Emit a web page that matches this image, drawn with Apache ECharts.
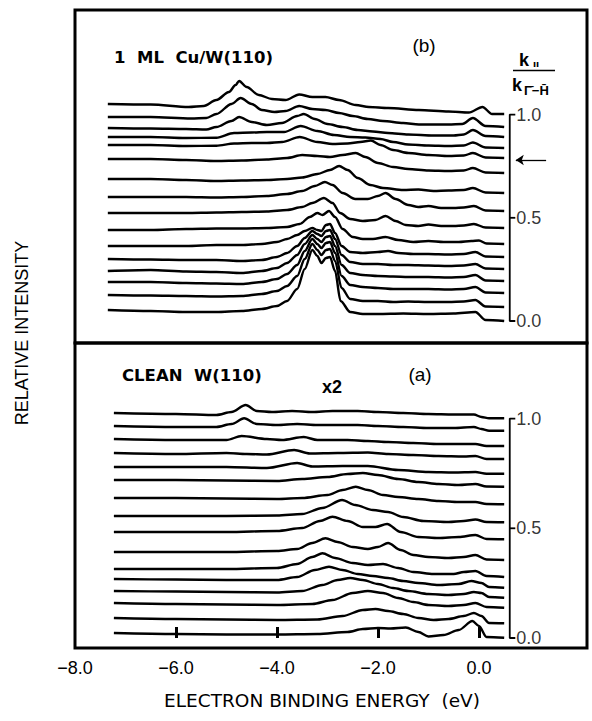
<!DOCTYPE html>
<html><head><meta charset="utf-8">
<script src="https://cdn.jsdelivr.net/npm/echarts@6/dist/echarts.min.js"></script>
<style>html,body{margin:0;padding:0;background:#fff}#c{width:592px;height:721px}</style>
</head><body><div id="c"></div>
<script>
// ---- axis / scale data ----
const energyTicks = [-6, -4, -2, 0];
const energyLabels = [-8, -6, -4, -2, 0];
const kTicks = [0, 0.5, 1.0];
const arrowK = 0.78;
const cuUnitsPerK = 206.4;   // intensity units per unit of k||/k(Γ-H) offset, panel (b)
const wUnitsPerK = 219.4;    // panel (a)

// ---- panel (b): 1 ML Cu/W(110)  [binding energy (eV), relative intensity] ----
const cuK100 = [[-7.35,217],[-6.5,216.5],[-5.75,214],[-5.45,215],[-5.2,221],[-4.95,229],[-4.82,236],[-4.75,240],[-4.6,234],[-4.36,226],[-4.1,222],[-3.83,221],[-3.56,226.5],[-3.3,224],[-3.04,224],[-2.77,221],[-2.44,216],[-2.18,214],[-1.8,213],[-1.19,211],[-0.6,209.5],[-0.2,208.5],[0.07,214],[0.26,207],[0.5,207]];
const cuK093 = [[-7.35,204],[-6.5,204],[-5.7,202.5],[-5.4,203],[-5.2,207],[-4.9,217],[-4.72,223],[-4.5,217],[-4.3,211],[-4.05,209],[-3.83,210],[-3.56,215],[-3.3,212],[-3.04,211],[-2.77,208],[-2.5,205],[-2.2,202],[-1.9,200],[-1.5,198],[-1.19,196.5],[-0.6,196.5],[-0.33,197],[-0.12,203],[0.13,195],[0.5,194]];
const cuK089 = [[-7.35,193],[-6.5,192.5],[-5.8,192],[-5.4,191.5],[-5.2,194],[-4.9,200],[-4.75,204],[-4.5,199],[-4.2,196],[-3.9,198],[-3.6,205],[-3.47,207],[-3.25,202],[-3.0,197],[-2.7,194],[-2.4,191],[-2.1,189.5],[-1.8,188],[-1.4,186.5],[-0.9,185.5],[-0.5,185.5],[-0.3,186.5],[-0.12,191],[0.13,185],[0.5,184]];
const cuK083 = [[-7.35,184],[-6.5,184],[-5.8,183],[-5.2,183.3],[-4.85,188],[-4.5,188.5],[-4.2,189],[-3.86,189],[-3.53,195],[-3.2,190],[-2.87,186],[-2.55,184],[-2.25,183.5],[-1.95,182],[-1.7,179],[-1.4,176.5],[-1.0,175.5],[-0.6,175],[-0.3,175.5],[-0.12,178.5],[0.13,173.5],[0.5,173]];
const cuK078 = [[-7.35,176],[-6.5,176],[-5.8,175],[-5.2,175.3],[-4.85,177.5],[-4.5,178],[-4.2,178],[-3.9,179],[-3.55,184],[-3.2,179],[-2.9,177],[-2.6,177.5],[-2.35,179],[-2.14,180.5],[-1.95,176],[-1.7,171],[-1.4,168],[-1.0,166],[-0.6,165],[-0.3,165.5],[-0.12,168],[0.13,163.5],[0.5,163]];
const cuK071 = [[-7.35,162],[-6.5,162],[-5.8,161],[-5.2,160],[-4.7,160.5],[-4.2,161.5],[-3.8,163],[-3.5,166],[-3.2,165],[-2.95,164],[-2.7,166],[-2.44,168],[-2.25,164],[-2.0,158],[-1.7,154],[-1.4,152],[-1.0,150.5],[-0.6,150],[-0.3,150.5],[-0.12,153],[0.13,148.5],[0.5,148]];
const cuK062 = [[-7.35,142],[-6.5,142],[-5.8,141],[-5.2,140],[-4.7,140.5],[-4.2,141],[-3.8,142],[-3.5,143.5],[-3.2,147],[-2.95,151],[-2.77,155],[-2.6,151],[-2.4,143],[-2.15,136],[-1.9,133],[-1.5,131],[-1.2,131.5],[-0.9,130],[-0.6,130.5],[-0.3,131],[-0.12,133],[0.13,128.5],[0.5,128]];
const cuK053 = [[-7.35,124],[-6.5,124],[-5.8,124],[-5.2,123.5],[-4.7,124],[-4.2,125],[-3.8,127],[-3.5,130],[-3.25,135],[-3.05,139],[-2.9,136],[-2.7,128],[-2.45,122],[-2.2,122],[-2.0,125],[-1.85,128],[-1.65,122],[-1.4,116],[-1.2,114],[-1.0,115],[-0.75,113],[-0.5,113],[-0.3,113.5],[-0.1,115],[0.13,110.5],[0.5,110]];
const cuK045 = [[-7.35,108],[-6.5,108],[-5.8,108],[-5.2,108.5],[-4.7,109],[-4.2,109.5],[-3.8,111],[-3.5,114],[-3.3,118],[-3.07,123],[-2.9,118],[-2.75,108],[-2.55,102],[-2.3,100],[-2.05,101],[-1.85,105],[-1.65,100],[-1.45,96],[-1.2,95],[-1.0,96.5],[-0.75,95],[-0.5,95],[-0.3,95.5],[-0.1,97],[0.13,93.5],[0.5,93]];
const cuK037 = [[-7.35,91],[-6.5,91],[-5.8,92],[-5.2,92.5],[-4.7,92.5],[-4.2,93],[-3.8,94],[-3.55,97],[-3.35,104],[-3.2,108],[-3.1,106],[-2.97,110],[-2.85,104],[-2.7,92],[-2.5,84],[-2.3,82],[-2.1,82],[-1.85,84],[-1.6,81],[-1.3,79],[-1.0,80],[-0.7,79],[-0.4,79],[-0.15,80],[0.0,80.5],[0.15,77.5],[0.5,77]];
const cuK031 = [[-7.35,75],[-6.5,75],[-5.8,75],[-5.2,76],[-4.7,76],[-4.3,77],[-4.0,79],[-3.8,82],[-3.6,86],[-3.45,90],[-3.3,93],[-3.2,91],[-3.12,90],[-3.03,96],[-2.95,97],[-2.85,88],[-2.72,75],[-2.55,69],[-2.3,68],[-2.0,69],[-1.8,70],[-1.6,68],[-1.3,67],[-1.0,67],[-0.6,66.5],[-0.3,67],[-0.07,69],[0.13,64.5],[0.5,64]];
const cuK025 = [[-7.35,62],[-6.5,61.5],[-5.8,61],[-5.2,61],[-4.7,60],[-4.3,61],[-4.0,64],[-3.8,68],[-3.6,75],[-3.45,83],[-3.3,90],[-3.2,87],[-3.12,85],[-3.03,90],[-2.95,91],[-2.85,82],[-2.72,66],[-2.55,59],[-2.3,57],[-2.0,57],[-1.7,56],[-1.4,56],[-1.0,55.5],[-0.6,55],[-0.3,55.5],[-0.07,57],[0.13,52.5],[0.5,52]];
const cuK019 = [[-7.35,50],[-6.5,51],[-5.8,49.5],[-5.2,49],[-4.7,48],[-4.3,50],[-4.0,53],[-3.8,58],[-3.6,66],[-3.45,77],[-3.3,86],[-3.2,82],[-3.12,79],[-3.03,84],[-2.95,85],[-2.85,75],[-2.72,56],[-2.55,48],[-2.3,46],[-2.0,45],[-1.7,44.5],[-1.4,44],[-1.0,44],[-0.6,43.5],[-0.3,44],[-0.07,46],[0.13,40.5],[0.5,40]];
const cuK014 = [[-7.35,39],[-6.5,39],[-5.8,38],[-5.2,37.5],[-4.7,37],[-4.3,39],[-4.0,42],[-3.8,47],[-3.6,56],[-3.45,70],[-3.3,82],[-3.2,77],[-3.12,73],[-3.03,78],[-2.95,79],[-2.85,68],[-2.72,45],[-2.55,36],[-2.3,34],[-2.0,33],[-1.7,32],[-1.4,32],[-1.0,32],[-0.6,31.5],[-0.3,32],[-0.07,34],[0.13,28.5],[0.5,28]];
const cuK007 = [[-7.35,26],[-6.5,25.5],[-5.8,25],[-5.2,24.5],[-4.7,25],[-4.3,27],[-4.0,30],[-3.8,35],[-3.6,45],[-3.45,62],[-3.3,77],[-3.2,71],[-3.12,66],[-3.03,71],[-2.95,72],[-2.85,60],[-2.72,33],[-2.55,22],[-2.3,20],[-2.0,20],[-1.7,19],[-1.4,19.5],[-1.0,19],[-0.6,19],[-0.3,19.5],[-0.07,21],[0.13,14.5],[0.5,14]];
const cuK000 = [[-7.35,11],[-6.5,10],[-5.8,9],[-5.2,9],[-4.7,10],[-4.3,12],[-4.0,15],[-3.8,20],[-3.6,32],[-3.45,52],[-3.3,71],[-3.2,65],[-3.12,58],[-3.03,63],[-2.95,64],[-2.85,50],[-2.74,20],[-2.55,9],[-2.3,7],[-2.0,7],[-1.5,7.5],[-1.0,7],[-0.5,7.5],[-0.07,9],[0.13,1],[0.5,0]];

// ---- panel (a): clean W(110), x2 ----
const wK100 = [[-7.23,225],[-6.0,224],[-5.2,223],[-4.9,226],[-4.62,233],[-4.4,227],[-4.1,226],[-3.7,227],[-3.3,226],[-2.9,227],[-2.4,227],[-2.0,226],[-1.5,225],[-1.0,224],[-0.5,223.5],[-0.1,223.5],[0.05,221],[0.2,219.7],[0.5,219.7]];
const wK095 = [[-7.23,212],[-6.0,211],[-5.2,211],[-4.9,214],[-4.65,219.7],[-4.4,214],[-4.0,213],[-3.6,214],[-3.2,213],[-2.8,213],[-2.4,213],[-2.0,212],[-1.5,211],[-1.0,210],[-0.5,210],[-0.1,211],[0.05,209],[0.2,207.3],[0.5,207.3]];
const wK088 = [[-7.23,199],[-6.0,198],[-5.0,198],[-4.7,202],[-4.2,199],[-3.9,198],[-3.47,201],[-3.2,198],[-2.6,198],[-2.2,197],[-1.8,196],[-1.3,195],[-0.8,194],[-0.3,194],[-0.07,194],[0.15,192],[0.5,192]];
const wK082 = [[-7.23,185],[-6.0,184],[-5.0,185],[-4.6,184],[-4.2,183.5],[-3.66,188],[-3.35,184.5],[-2.8,185],[-2.2,185.5],[-1.8,184],[-1.3,183],[-0.8,182],[-0.3,181.5],[-0.07,182],[0.15,179],[0.5,179]];
const wK075 = [[-7.23,171],[-6.0,171],[-5.0,171],[-4.2,170],[-3.6,175],[-3.3,171.5],[-2.7,172],[-2.2,172],[-1.6,168],[-1.0,166],[-0.5,165.5],[-0.07,166],[0.15,164.3],[0.5,164.3]];
const wK069 = [[-7.23,158],[-6.0,158],[-5.0,157.5],[-4.0,157],[-3.5,159],[-3.0,161],[-2.6,164],[-2.3,165],[-2.0,163],[-1.6,159],[-1.2,156],[-0.8,154],[-0.4,153],[-0.07,154],[0.15,151.5],[0.5,151.3]];
const wK061 = [[-7.23,140],[-6.0,140],[-5.0,139.5],[-4.0,139],[-3.5,140],[-3.0,143],[-2.7,148],[-2.44,151.3],[-2.2,148],[-1.9,143],[-1.6,141],[-1.2,139],[-0.8,137],[-0.4,136],[-0.07,136],[0.15,134],[0.5,133.7]];
const wK053 = [[-7.23,122],[-6.0,122],[-5.0,122],[-4.0,122.5],[-3.5,124],[-3.1,130],[-2.71,138],[-2.45,133],[-2.1,128],[-1.8,126],[-1.5,121],[-1.1,117],[-0.6,116],[-0.3,117],[-0.07,118.5],[0.15,116],[0.5,115.7]];
const wK045 = [[-7.23,106],[-6.0,106],[-5.0,106],[-4.0,107],[-3.5,110],[-3.15,117],[-2.9,121.3],[-2.6,117],[-2.3,111],[-2.05,111],[-1.82,114],[-1.55,106],[-1.2,101],[-0.8,100],[-0.4,101],[-0.07,103],[0.15,99],[0.5,98.7]];
const wK036 = [[-7.23,86],[-6.0,86],[-5.0,86],[-4.0,87],[-3.6,89],[-3.3,95],[-3.04,99.7],[-2.8,96],[-2.5,91],[-2.2,89],[-2.0,91],[-1.8,95],[-1.55,88],[-1.3,83],[-1.0,81],[-0.6,80],[-0.3,81],[-0.07,83],[0.15,78.5],[0.5,78]];
const wK028 = [[-7.23,69],[-6.0,69],[-5.0,69],[-4.0,70],[-3.6,74],[-3.3,81],[-3.1,84.7],[-2.85,80],[-2.5,75],[-2.2,73],[-1.9,74],[-1.6,70],[-1.3,66],[-0.9,64],[-0.5,64],[-0.3,66],[-0.07,67],[0.15,62],[0.5,61]];
const wK023 = [[-7.23,59],[-6.0,58.5],[-5.0,58],[-4.0,58],[-3.6,61],[-3.25,68],[-2.97,71.3],[-2.7,68],[-2.4,64],[-2.1,62],[-1.8,60],[-1.5,57],[-1.2,55],[-0.8,53],[-0.4,54],[-0.15,57],[0.05,55],[0.2,51],[0.5,50.3]];
const wK018 = [[-7.23,47],[-6.0,46.5],[-5.0,46],[-4.0,45.5],[-3.5,47],[-3.1,53],[-2.8,58],[-2.55,60],[-2.3,58],[-2.0,54],[-1.7,50],[-1.4,47],[-1.0,44],[-0.6,43],[-0.3,44],[-0.1,46],[0.05,45],[0.2,41],[0.5,40.3]];
const wK014 = [[-7.23,35],[-6.0,34],[-5.0,33.5],[-4.0,33],[-3.3,34],[-2.9,38],[-2.5,45],[-2.2,47],[-1.9,45],[-1.6,40],[-1.3,36],[-1.0,33],[-0.6,32],[-0.3,33],[-0.07,35],[0.15,31],[0.5,30.3]];
const wK007 = [[-7.23,20],[-6.0,19],[-5.0,18.5],[-4.0,18],[-3.2,18.5],[-2.7,22],[-2.3,28],[-2.05,29],[-1.8,27],[-1.5,24],[-1.2,20],[-0.9,18],[-0.6,19],[-0.3,22],[-0.1,25],[0.05,22],[0.2,15],[0.5,14.7]];
const wK000 = [[-7.23,5],[-6.0,4],[-5.0,3.5],[-4.0,3.5],[-3.2,4],[-2.6,6],[-2.3,9],[-2.0,10],[-1.75,9.5],[-1.45,10.5],[-1.2,6],[-1.0,1.5],[-0.7,3],[-0.4,8],[-0.13,17],[0.0,12],[0.15,1],[0.5,0.3]];

const cuSpectra = [cuK100,cuK093,cuK089,cuK083,cuK078,cuK071,cuK062,cuK053,cuK045,cuK037,cuK031,cuK025,cuK019,cuK014,cuK007,cuK000];
const wSpectra = [wK100,wK095,wK088,wK082,wK075,wK069,wK061,wK053,wK045,wK036,wK028,wK023,wK018,wK014,wK007,wK000];

// ---- chart ----
const FONT = '"Liberation Sans", Arial, sans-serif';
const DJ = '"DejaVu Sans", sans-serif';
const chart = echarts.init(document.getElementById('c'), null, {renderer: 'svg'});
const series = [];
function addSpectra(list, gi) {
  list.forEach(d => series.push({
    type: 'line', xAxisIndex: gi, yAxisIndex: gi, data: d,
    smooth: 0.3, smoothMonotone: 'x', symbol: 'none', silent: true,
    lineStyle: {color: '#000', width: 2.4}, z: 3
  }));
}
addSpectra(cuSpectra, 0);
addSpectra(wSpectra, 1);

const BAR_X = 0.61, TICK_X = 0.72;
function addScale(gi, unit, withArrow) {
  const line = {color: '#000', width: 1.8};
  series.push({type: 'line', xAxisIndex: gi, yAxisIndex: gi, symbol: 'none', silent: true, lineStyle: line,
    data: [[TICK_X, kTicks[2] * unit], [BAR_X, kTicks[2] * unit], [BAR_X, kTicks[0] * unit], [TICK_X, kTicks[0] * unit]],
    markLine: withArrow ? {
      silent: true, symbol: ['none', 'arrow'], symbolSize: 8, label: {show: false},
      lineStyle: {color: '#000', width: 1.3, type: 'solid'},
      data: [[{coord: [1.33, arrowK * unit]}, {coord: [0.73, arrowK * unit]}]]
    } : undefined
  });
  series.push({type: 'line', xAxisIndex: gi, yAxisIndex: gi, symbol: 'none', silent: true, lineStyle: line,
    data: [[BAR_X, kTicks[1] * unit], [TICK_X, kTicks[1] * unit]]});
  series.push({type: 'scatter', xAxisIndex: gi, yAxisIndex: gi, symbolSize: 0, silent: true,
    data: kTicks.map(k => [TICK_X, k * unit]),
    label: {show: true, position: 'right', distance: 1, color: '#000', fontSize: 18, fontFamily: FONT,
      formatter: p => kTicks[p.dataIndex].toFixed(1)}});
}
addScale(0, cuUnitsPerK, true);
addScale(1, wUnitsPerK, false);

const fmtE = v => (v < 0 ? '\u2212' : '') + Math.abs(v).toFixed(1);
const txt = (x, y, text, font, extra) => Object.assign({type: 'text', x, y, silent: true,
  style: Object.assign({text, fill: '#000', font, align: 'left', verticalAlign: 'middle'}, extra || {})});

chart.setOption({
  animation: false,
  backgroundColor: '#fff',
  grid: [
    {left: 75, top: 10, width: 512, height: 333, show: true, borderColor: '#000', borderWidth: 3, backgroundColor: 'transparent'},
    {left: 75, top: 343, width: 512, height: 305, show: true, borderColor: '#000', borderWidth: 3, backgroundColor: 'transparent'}
  ],
  xAxis: [
    {gridIndex: 0, type: 'value', min: -8, max: 2.14, show: false},
    {gridIndex: 1, type: 'value', min: -8, max: 2.14, axisLine: {show: false}, splitLine: {show: false},
      axisTick: {show: true, inside: true, length: 11, lineStyle: {color: '#000', width: 3}, customValues: energyTicks},
      axisLabel: {show: true, customValues: energyLabels, formatter: fmtE, color: '#000', fontSize: 18, fontFamily: FONT, margin: 11}}
  ],
  yAxis: [
    {gridIndex: 0, type: 'value', min: -22, max: 311, show: false},
    {gridIndex: 1, type: 'value', min: -10, max: 295, show: false}
  ],
  series,
  graphic: [
    txt(114, 57, '1  ML  Cu/W(110)', 'bold 16.5px ' + DJ),
    txt(424, 45, '(b)', '19px ' + FONT, {align: 'center'}),
    txt(122, 375, 'CLEAN  W(110)', 'bold 16.5px ' + DJ),
    txt(332, 387, 'x2', 'bold 18px ' + FONT, {align: 'center'}),
    txt(420, 374, '(a)', '19px ' + FONT, {align: 'center'}),
    txt(519, 60, 'k', 'bold 18px ' + FONT),
    txt(533, 64, '\u0131\u0131', 'bold 9px ' + DJ),
    {type: 'line', silent: true, shape: {x1: 513, y1: 70.5, x2: 555, y2: 70.5}, style: {stroke: '#000', lineWidth: 1.6}},
    txt(512, 85, 'k', 'bold 18px ' + FONT),
    txt(524, 90, '\u0393\u0304\u2212H\u0304', 'bold 13px ' + FONT),
    {type: 'text', x: 22, y: 333, rotation: Math.PI / 2, silent: true,
      style: {text: 'RELATIVE INTENSITY', fill: '#000', font: '18px ' + FONT, align: 'center', verticalAlign: 'middle'}},
    txt(322, 700, 'ELECTRON BINDING ENERGY  (eV)', '18.5px ' + DJ, {align: 'center'})
  ]
});
</script></body></html>
